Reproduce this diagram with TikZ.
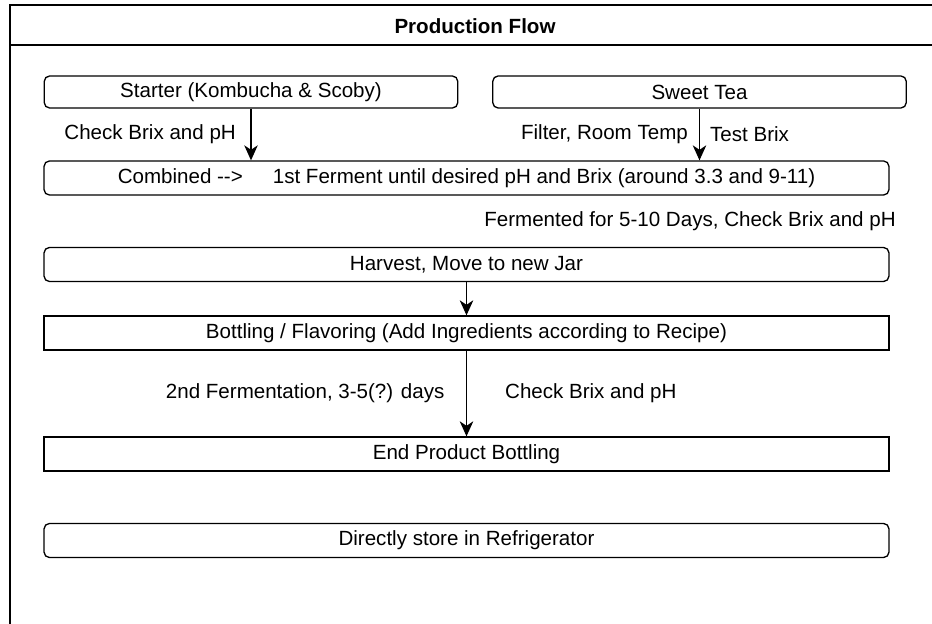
\documentclass[tikz,border=0pt]{standalone}
\usepackage{fontspec}
\setmainfont{Liberation Sans}
\usepackage{tikz}
\usetikzlibrary{arrows.meta,positioning}
\tikzset{
  frame/.style={line width=0.75pt, draw=black},
  stage/.style={
    rectangle,
    rounded corners=3pt,
    draw=black,
    line width=0.75pt,
    fill=white,
    align=center,
    inner sep=0pt,
    minimum height=0.68cm,
    font=\fontsize{11.7}{14}\selectfont
  },
  flat/.style={stage, rounded corners=0pt},
  wide/.style={minimum width=16.9cm},
  half/.style={minimum width=8.27cm, minimum height=0.64cm},
  flow/.style={line width=0.75pt, draw=black, -{Stealth[length=0.3cm, width=0.27cm, inset=0.09cm]}},
  note/.style={font=\fontsize{11.7}{14}\selectfont, inner sep=0pt, text=black},
  heading/.style={font=\fontsize{11.7}{14}\selectfont\bfseries, inner sep=0pt}
}

\begin{document}
\begin{tikzpicture}[x=0.02cm,y=-0.02cm]
\clip (0,0) rectangle (932,624);
\fill[white] (0,0) rectangle (932,624);

% outer frame and title bar
\draw[frame] (10,5) rectangle (940,640);
\draw[frame] (10,45) -- (940,45);
\node[heading] (title) at (475,26) {Production Flow};

\node[stage, half] (starter) at (251,92) {Starter (Kombucha \& Scoby)};
\node[stage, half] (tea) at (699.5,92) {Sweet Tea};
\node[stage, wide] (ferment) at (466.5,178)
  {Combined -\kern0pt-\kern0pt>\hspace{0.6cm}1st Ferment until desired pH and Brix (around 3.3 and 9-11)};
\node[note, anchor=east] (fermnote) at (896,221) {Fermented for 5-10 Days, Check Brix and pH};
\node[stage, wide] (harvest) at (466.5,264.5) {Harvest, Move to new Jar};
\node[flat, wide] (bottling) at (466.5,333) {Bottling / Flavoring (Add Ingredients according to Recipe)};
\node[flat, wide] (endprod) at (466.5,454) {End Product Bottling};
\node[stage, wide] (fridge) at (466.5,540.5) {Directly store in Refrigerator};

\draw[flow] (starter) -- node[note, left=11\pgflinewidth] {Check Brix and pH} (starter |- ferment.north);
\draw[flow] (tea) -- node[note, left=0.22cm] {Filter, Room Temp} node[note, right=0.2cm] {Test Brix} (tea |- ferment.north);
\draw[flow] (harvest) -- (bottling);
\draw[flow] (bottling) -- node[note, left=0.43cm] {2nd Fermentation, 3-5(?) days} node[note, right=0.76cm] {Check Brix and pH} (endprod);
\end{tikzpicture}
\end{document}
